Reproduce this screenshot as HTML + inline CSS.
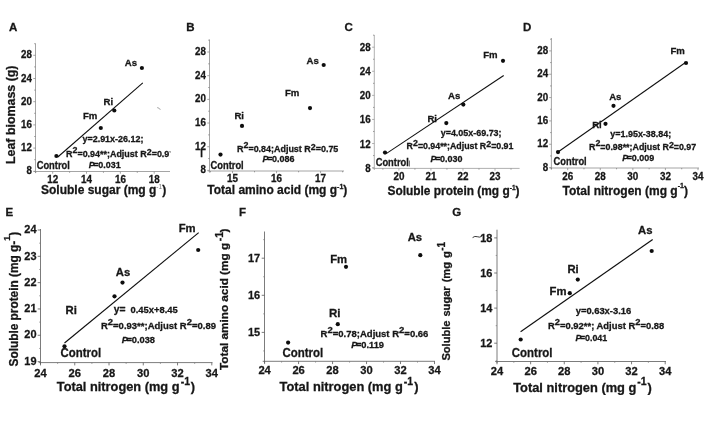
<!DOCTYPE html>
<html><head><meta charset="utf-8"><title>Figure</title>
<style>
html,body{margin:0;padding:0;background:#fff;}
svg{display:block;}
text{font-family:"Liberation Sans",Arial,Helvetica,sans-serif;font-weight:bold;fill:#151515;stroke:#151515;stroke-width:0.28px;}
</style></head><body>
<svg width="708" height="422" viewBox="0 0 708 422">
<defs><filter id="soft" x="0" y="0" width="708" height="422" filterUnits="userSpaceOnUse"><feGaussianBlur stdDeviation="0.35"/></filter></defs>
<rect width="708" height="422" fill="#ffffff"/>
<line x1="35.50" y1="43.50" x2="35.50" y2="173.10" stroke="#8e8e8e" stroke-width="0.8"/>
<line x1="33.70" y1="171.50" x2="170.00" y2="171.50" stroke="#8e8e8e" stroke-width="0.8"/>
<line x1="33.30" y1="55.30" x2="35.50" y2="55.30" stroke="#8e8e8e" stroke-width="0.8"/>
<line x1="33.30" y1="78.50" x2="35.50" y2="78.50" stroke="#8e8e8e" stroke-width="0.8"/>
<line x1="33.30" y1="101.70" x2="35.50" y2="101.70" stroke="#8e8e8e" stroke-width="0.8"/>
<line x1="33.30" y1="124.90" x2="35.50" y2="124.90" stroke="#8e8e8e" stroke-width="0.8"/>
<line x1="33.30" y1="148.10" x2="35.50" y2="148.10" stroke="#8e8e8e" stroke-width="0.8"/>
<line x1="33.30" y1="171.30" x2="35.50" y2="171.30" stroke="#8e8e8e" stroke-width="0.8"/>
<line x1="34.20" y1="43.70" x2="35.50" y2="43.70" stroke="#777" stroke-width="0.7"/>
<line x1="34.20" y1="66.90" x2="35.50" y2="66.90" stroke="#777" stroke-width="0.7"/>
<line x1="34.20" y1="90.10" x2="35.50" y2="90.10" stroke="#777" stroke-width="0.7"/>
<line x1="34.20" y1="113.30" x2="35.50" y2="113.30" stroke="#777" stroke-width="0.7"/>
<line x1="34.20" y1="136.50" x2="35.50" y2="136.50" stroke="#777" stroke-width="0.7"/>
<line x1="34.20" y1="159.70" x2="35.50" y2="159.70" stroke="#777" stroke-width="0.7"/>
<line x1="52.70" y1="171.50" x2="52.70" y2="173.70" stroke="#8e8e8e" stroke-width="0.8"/>
<line x1="86.53" y1="171.50" x2="86.53" y2="173.70" stroke="#8e8e8e" stroke-width="0.8"/>
<line x1="120.37" y1="171.50" x2="120.37" y2="173.70" stroke="#8e8e8e" stroke-width="0.8"/>
<line x1="154.20" y1="171.50" x2="154.20" y2="173.70" stroke="#8e8e8e" stroke-width="0.8"/>
<line x1="35.78" y1="171.50" x2="35.78" y2="172.80" stroke="#777" stroke-width="0.7"/>
<line x1="69.62" y1="171.50" x2="69.62" y2="172.80" stroke="#777" stroke-width="0.7"/>
<line x1="103.45" y1="171.50" x2="103.45" y2="172.80" stroke="#777" stroke-width="0.7"/>
<line x1="137.28" y1="171.50" x2="137.28" y2="172.80" stroke="#777" stroke-width="0.7"/>
<line x1="209.50" y1="39.50" x2="209.50" y2="172.60" stroke="#8e8e8e" stroke-width="0.8"/>
<line x1="207.70" y1="171.00" x2="344.00" y2="171.00" stroke="#8e8e8e" stroke-width="0.8"/>
<line x1="207.30" y1="52.00" x2="209.50" y2="52.00" stroke="#8e8e8e" stroke-width="0.8"/>
<line x1="207.30" y1="75.68" x2="209.50" y2="75.68" stroke="#8e8e8e" stroke-width="0.8"/>
<line x1="207.30" y1="99.36" x2="209.50" y2="99.36" stroke="#8e8e8e" stroke-width="0.8"/>
<line x1="207.30" y1="123.04" x2="209.50" y2="123.04" stroke="#8e8e8e" stroke-width="0.8"/>
<line x1="207.30" y1="146.72" x2="209.50" y2="146.72" stroke="#8e8e8e" stroke-width="0.8"/>
<line x1="207.30" y1="170.40" x2="209.50" y2="170.40" stroke="#8e8e8e" stroke-width="0.8"/>
<line x1="208.20" y1="40.16" x2="209.50" y2="40.16" stroke="#777" stroke-width="0.7"/>
<line x1="208.20" y1="63.84" x2="209.50" y2="63.84" stroke="#777" stroke-width="0.7"/>
<line x1="208.20" y1="87.52" x2="209.50" y2="87.52" stroke="#777" stroke-width="0.7"/>
<line x1="208.20" y1="111.20" x2="209.50" y2="111.20" stroke="#777" stroke-width="0.7"/>
<line x1="208.20" y1="134.88" x2="209.50" y2="134.88" stroke="#777" stroke-width="0.7"/>
<line x1="208.20" y1="158.56" x2="209.50" y2="158.56" stroke="#777" stroke-width="0.7"/>
<line x1="232.50" y1="171.00" x2="232.50" y2="173.20" stroke="#8e8e8e" stroke-width="0.8"/>
<line x1="276.55" y1="171.00" x2="276.55" y2="173.20" stroke="#8e8e8e" stroke-width="0.8"/>
<line x1="320.60" y1="171.00" x2="320.60" y2="173.20" stroke="#8e8e8e" stroke-width="0.8"/>
<line x1="210.47" y1="171.00" x2="210.47" y2="172.30" stroke="#777" stroke-width="0.7"/>
<line x1="254.53" y1="171.00" x2="254.53" y2="172.30" stroke="#777" stroke-width="0.7"/>
<line x1="298.58" y1="171.00" x2="298.58" y2="172.30" stroke="#777" stroke-width="0.7"/>
<line x1="342.63" y1="171.00" x2="342.63" y2="172.30" stroke="#777" stroke-width="0.7"/>
<line x1="374.30" y1="35.00" x2="374.30" y2="170.00" stroke="#9c9c9c" stroke-width="0.8"/>
<line x1="372.50" y1="168.40" x2="519.60" y2="168.40" stroke="#9c9c9c" stroke-width="0.8"/>
<line x1="372.10" y1="47.20" x2="374.30" y2="47.20" stroke="#9c9c9c" stroke-width="0.8"/>
<line x1="372.10" y1="71.28" x2="374.30" y2="71.28" stroke="#9c9c9c" stroke-width="0.8"/>
<line x1="372.10" y1="95.36" x2="374.30" y2="95.36" stroke="#9c9c9c" stroke-width="0.8"/>
<line x1="372.10" y1="119.44" x2="374.30" y2="119.44" stroke="#9c9c9c" stroke-width="0.8"/>
<line x1="372.10" y1="143.52" x2="374.30" y2="143.52" stroke="#9c9c9c" stroke-width="0.8"/>
<line x1="372.10" y1="167.60" x2="374.30" y2="167.60" stroke="#9c9c9c" stroke-width="0.8"/>
<line x1="373.00" y1="35.16" x2="374.30" y2="35.16" stroke="#777" stroke-width="0.7"/>
<line x1="373.00" y1="59.24" x2="374.30" y2="59.24" stroke="#777" stroke-width="0.7"/>
<line x1="373.00" y1="83.32" x2="374.30" y2="83.32" stroke="#777" stroke-width="0.7"/>
<line x1="373.00" y1="107.40" x2="374.30" y2="107.40" stroke="#777" stroke-width="0.7"/>
<line x1="373.00" y1="131.48" x2="374.30" y2="131.48" stroke="#777" stroke-width="0.7"/>
<line x1="373.00" y1="155.56" x2="374.30" y2="155.56" stroke="#777" stroke-width="0.7"/>
<line x1="398.90" y1="168.40" x2="398.90" y2="170.60" stroke="#9c9c9c" stroke-width="0.8"/>
<line x1="430.93" y1="168.40" x2="430.93" y2="170.60" stroke="#9c9c9c" stroke-width="0.8"/>
<line x1="462.97" y1="168.40" x2="462.97" y2="170.60" stroke="#9c9c9c" stroke-width="0.8"/>
<line x1="495.00" y1="168.40" x2="495.00" y2="170.60" stroke="#9c9c9c" stroke-width="0.8"/>
<line x1="382.88" y1="168.40" x2="382.88" y2="169.70" stroke="#777" stroke-width="0.7"/>
<line x1="414.92" y1="168.40" x2="414.92" y2="169.70" stroke="#777" stroke-width="0.7"/>
<line x1="446.95" y1="168.40" x2="446.95" y2="169.70" stroke="#777" stroke-width="0.7"/>
<line x1="478.98" y1="168.40" x2="478.98" y2="169.70" stroke="#777" stroke-width="0.7"/>
<line x1="511.02" y1="168.40" x2="511.02" y2="169.70" stroke="#777" stroke-width="0.7"/>
<line x1="409.50" y1="160.50" x2="409.50" y2="166.50" stroke="#555" stroke-width="0.8"/>
<line x1="551.40" y1="38.00" x2="551.40" y2="169.60" stroke="#8e8e8e" stroke-width="0.8"/>
<line x1="549.60" y1="168.00" x2="699.00" y2="168.00" stroke="#8e8e8e" stroke-width="0.8"/>
<line x1="549.20" y1="50.90" x2="551.40" y2="50.90" stroke="#8e8e8e" stroke-width="0.8"/>
<line x1="549.20" y1="74.24" x2="551.40" y2="74.24" stroke="#8e8e8e" stroke-width="0.8"/>
<line x1="549.20" y1="97.58" x2="551.40" y2="97.58" stroke="#8e8e8e" stroke-width="0.8"/>
<line x1="549.20" y1="120.92" x2="551.40" y2="120.92" stroke="#8e8e8e" stroke-width="0.8"/>
<line x1="549.20" y1="144.26" x2="551.40" y2="144.26" stroke="#8e8e8e" stroke-width="0.8"/>
<line x1="549.20" y1="167.60" x2="551.40" y2="167.60" stroke="#8e8e8e" stroke-width="0.8"/>
<line x1="550.10" y1="39.23" x2="551.40" y2="39.23" stroke="#777" stroke-width="0.7"/>
<line x1="550.10" y1="62.57" x2="551.40" y2="62.57" stroke="#777" stroke-width="0.7"/>
<line x1="550.10" y1="85.91" x2="551.40" y2="85.91" stroke="#777" stroke-width="0.7"/>
<line x1="550.10" y1="109.25" x2="551.40" y2="109.25" stroke="#777" stroke-width="0.7"/>
<line x1="550.10" y1="132.59" x2="551.40" y2="132.59" stroke="#777" stroke-width="0.7"/>
<line x1="550.10" y1="155.93" x2="551.40" y2="155.93" stroke="#777" stroke-width="0.7"/>
<line x1="567.70" y1="168.00" x2="567.70" y2="170.20" stroke="#8e8e8e" stroke-width="0.8"/>
<line x1="600.28" y1="168.00" x2="600.28" y2="170.20" stroke="#8e8e8e" stroke-width="0.8"/>
<line x1="632.85" y1="168.00" x2="632.85" y2="170.20" stroke="#8e8e8e" stroke-width="0.8"/>
<line x1="665.42" y1="168.00" x2="665.42" y2="170.20" stroke="#8e8e8e" stroke-width="0.8"/>
<line x1="698.00" y1="168.00" x2="698.00" y2="170.20" stroke="#8e8e8e" stroke-width="0.8"/>
<line x1="551.41" y1="168.00" x2="551.41" y2="169.30" stroke="#777" stroke-width="0.7"/>
<line x1="583.99" y1="168.00" x2="583.99" y2="169.30" stroke="#777" stroke-width="0.7"/>
<line x1="616.56" y1="168.00" x2="616.56" y2="169.30" stroke="#777" stroke-width="0.7"/>
<line x1="649.14" y1="168.00" x2="649.14" y2="169.30" stroke="#777" stroke-width="0.7"/>
<line x1="681.71" y1="168.00" x2="681.71" y2="169.30" stroke="#777" stroke-width="0.7"/>
<line x1="40.50" y1="229.00" x2="40.50" y2="364.20" stroke="#5a5a5a" stroke-width="0.8"/>
<line x1="38.70" y1="362.60" x2="212.50" y2="362.60" stroke="#5a5a5a" stroke-width="0.8"/>
<line x1="37.70" y1="230.00" x2="40.50" y2="230.00" stroke="#5a5a5a" stroke-width="0.8"/>
<line x1="37.70" y1="256.32" x2="40.50" y2="256.32" stroke="#5a5a5a" stroke-width="0.8"/>
<line x1="37.70" y1="282.64" x2="40.50" y2="282.64" stroke="#5a5a5a" stroke-width="0.8"/>
<line x1="37.70" y1="308.96" x2="40.50" y2="308.96" stroke="#5a5a5a" stroke-width="0.8"/>
<line x1="37.70" y1="335.28" x2="40.50" y2="335.28" stroke="#5a5a5a" stroke-width="0.8"/>
<line x1="37.70" y1="361.60" x2="40.50" y2="361.60" stroke="#5a5a5a" stroke-width="0.8"/>
<line x1="39.20" y1="243.16" x2="40.50" y2="243.16" stroke="#777" stroke-width="0.7"/>
<line x1="39.20" y1="269.48" x2="40.50" y2="269.48" stroke="#777" stroke-width="0.7"/>
<line x1="39.20" y1="295.80" x2="40.50" y2="295.80" stroke="#777" stroke-width="0.7"/>
<line x1="39.20" y1="322.12" x2="40.50" y2="322.12" stroke="#777" stroke-width="0.7"/>
<line x1="39.20" y1="348.44" x2="40.50" y2="348.44" stroke="#777" stroke-width="0.7"/>
<line x1="40.50" y1="362.60" x2="40.50" y2="365.40" stroke="#5a5a5a" stroke-width="0.8"/>
<line x1="74.76" y1="362.60" x2="74.76" y2="365.40" stroke="#5a5a5a" stroke-width="0.8"/>
<line x1="109.02" y1="362.60" x2="109.02" y2="365.40" stroke="#5a5a5a" stroke-width="0.8"/>
<line x1="143.28" y1="362.60" x2="143.28" y2="365.40" stroke="#5a5a5a" stroke-width="0.8"/>
<line x1="177.54" y1="362.60" x2="177.54" y2="365.40" stroke="#5a5a5a" stroke-width="0.8"/>
<line x1="211.80" y1="362.60" x2="211.80" y2="365.40" stroke="#5a5a5a" stroke-width="0.8"/>
<line x1="57.63" y1="362.60" x2="57.63" y2="363.90" stroke="#777" stroke-width="0.7"/>
<line x1="91.89" y1="362.60" x2="91.89" y2="363.90" stroke="#777" stroke-width="0.7"/>
<line x1="126.15" y1="362.60" x2="126.15" y2="363.90" stroke="#777" stroke-width="0.7"/>
<line x1="160.41" y1="362.60" x2="160.41" y2="363.90" stroke="#777" stroke-width="0.7"/>
<line x1="194.67" y1="362.60" x2="194.67" y2="363.90" stroke="#777" stroke-width="0.7"/>
<line x1="264.50" y1="231.50" x2="264.50" y2="362.90" stroke="#5a5a5a" stroke-width="0.8"/>
<line x1="262.70" y1="361.30" x2="435.00" y2="361.30" stroke="#5a5a5a" stroke-width="0.8"/>
<line x1="261.70" y1="258.20" x2="264.50" y2="258.20" stroke="#5a5a5a" stroke-width="0.8"/>
<line x1="261.70" y1="295.30" x2="264.50" y2="295.30" stroke="#5a5a5a" stroke-width="0.8"/>
<line x1="261.70" y1="332.40" x2="264.50" y2="332.40" stroke="#5a5a5a" stroke-width="0.8"/>
<line x1="263.20" y1="239.65" x2="264.50" y2="239.65" stroke="#777" stroke-width="0.7"/>
<line x1="263.20" y1="276.75" x2="264.50" y2="276.75" stroke="#777" stroke-width="0.7"/>
<line x1="263.20" y1="313.85" x2="264.50" y2="313.85" stroke="#777" stroke-width="0.7"/>
<line x1="263.20" y1="350.95" x2="264.50" y2="350.95" stroke="#777" stroke-width="0.7"/>
<line x1="264.60" y1="361.30" x2="264.60" y2="364.10" stroke="#5a5a5a" stroke-width="0.8"/>
<line x1="298.58" y1="361.30" x2="298.58" y2="364.10" stroke="#5a5a5a" stroke-width="0.8"/>
<line x1="332.56" y1="361.30" x2="332.56" y2="364.10" stroke="#5a5a5a" stroke-width="0.8"/>
<line x1="366.54" y1="361.30" x2="366.54" y2="364.10" stroke="#5a5a5a" stroke-width="0.8"/>
<line x1="400.52" y1="361.30" x2="400.52" y2="364.10" stroke="#5a5a5a" stroke-width="0.8"/>
<line x1="434.50" y1="361.30" x2="434.50" y2="364.10" stroke="#5a5a5a" stroke-width="0.8"/>
<line x1="281.59" y1="361.30" x2="281.59" y2="362.60" stroke="#777" stroke-width="0.7"/>
<line x1="315.57" y1="361.30" x2="315.57" y2="362.60" stroke="#777" stroke-width="0.7"/>
<line x1="349.55" y1="361.30" x2="349.55" y2="362.60" stroke="#777" stroke-width="0.7"/>
<line x1="383.53" y1="361.30" x2="383.53" y2="362.60" stroke="#777" stroke-width="0.7"/>
<line x1="417.51" y1="361.30" x2="417.51" y2="362.60" stroke="#777" stroke-width="0.7"/>
<line x1="497.00" y1="229.70" x2="497.00" y2="363.10" stroke="#5a5a5a" stroke-width="0.8"/>
<line x1="495.20" y1="361.50" x2="666.00" y2="361.50" stroke="#5a5a5a" stroke-width="0.8"/>
<line x1="494.20" y1="237.90" x2="497.00" y2="237.90" stroke="#5a5a5a" stroke-width="0.8"/>
<line x1="494.20" y1="273.00" x2="497.00" y2="273.00" stroke="#5a5a5a" stroke-width="0.8"/>
<line x1="494.20" y1="308.10" x2="497.00" y2="308.10" stroke="#5a5a5a" stroke-width="0.8"/>
<line x1="494.20" y1="343.20" x2="497.00" y2="343.20" stroke="#5a5a5a" stroke-width="0.8"/>
<line x1="495.70" y1="255.45" x2="497.00" y2="255.45" stroke="#777" stroke-width="0.7"/>
<line x1="495.70" y1="290.55" x2="497.00" y2="290.55" stroke="#777" stroke-width="0.7"/>
<line x1="495.70" y1="325.65" x2="497.00" y2="325.65" stroke="#777" stroke-width="0.7"/>
<line x1="495.70" y1="360.75" x2="497.00" y2="360.75" stroke="#777" stroke-width="0.7"/>
<line x1="497.00" y1="361.50" x2="497.00" y2="364.30" stroke="#5a5a5a" stroke-width="0.8"/>
<line x1="530.64" y1="361.50" x2="530.64" y2="364.30" stroke="#5a5a5a" stroke-width="0.8"/>
<line x1="564.28" y1="361.50" x2="564.28" y2="364.30" stroke="#5a5a5a" stroke-width="0.8"/>
<line x1="597.92" y1="361.50" x2="597.92" y2="364.30" stroke="#5a5a5a" stroke-width="0.8"/>
<line x1="631.56" y1="361.50" x2="631.56" y2="364.30" stroke="#5a5a5a" stroke-width="0.8"/>
<line x1="665.20" y1="361.50" x2="665.20" y2="364.30" stroke="#5a5a5a" stroke-width="0.8"/>
<line x1="513.82" y1="361.50" x2="513.82" y2="362.80" stroke="#777" stroke-width="0.7"/>
<line x1="547.46" y1="361.50" x2="547.46" y2="362.80" stroke="#777" stroke-width="0.7"/>
<line x1="581.10" y1="361.50" x2="581.10" y2="362.80" stroke="#777" stroke-width="0.7"/>
<line x1="614.74" y1="361.50" x2="614.74" y2="362.80" stroke="#777" stroke-width="0.7"/>
<line x1="648.38" y1="361.50" x2="648.38" y2="362.80" stroke="#777" stroke-width="0.7"/>
<g filter="url(#soft)">
<text x="9.00" y="31.00" font-size="11.5">A</text>
<text transform="translate(31.90 58.49) scale(0.94 1)" font-size="10.4" text-anchor="end">28</text>
<text transform="translate(31.90 81.69) scale(0.94 1)" font-size="10.4" text-anchor="end">24</text>
<text transform="translate(31.90 104.89) scale(0.94 1)" font-size="10.4" text-anchor="end">20</text>
<text transform="translate(31.90 128.09) scale(0.94 1)" font-size="10.4" text-anchor="end">16</text>
<text transform="translate(31.90 151.29) scale(0.94 1)" font-size="10.4" text-anchor="end">12</text>
<text transform="translate(31.90 174.49) scale(0.94 1)" font-size="10.4" text-anchor="end">8</text>
<text transform="translate(52.70 182.70) scale(0.95 1)" font-size="10.4" text-anchor="middle">12</text>
<text transform="translate(86.53 182.70) scale(0.95 1)" font-size="10.4" text-anchor="middle">14</text>
<text transform="translate(120.37 182.70) scale(0.95 1)" font-size="10.4" text-anchor="middle">16</text>
<text transform="translate(154.20 182.70) scale(0.95 1)" font-size="10.4" text-anchor="middle">18</text>
<text transform="translate(15.00 164.00) rotate(-90)" font-size="12.4">Leaf biomass (g)</text>
<text x="41.00" y="194.20" font-size="12">Soluble sugar (mg g<tspan dy="-5.5" font-size="6.5" style="font-weight:normal;fill:#777;stroke:none">-1</tspan><tspan dy="5.5">)</tspan></text>
<line x1="57.80" y1="157.00" x2="142.80" y2="82.80" stroke="#111" stroke-width="1.05"/>
<circle cx="56.40" cy="156.00" r="2.1" fill="#111"/>
<circle cx="100.80" cy="128.00" r="2.1" fill="#111"/>
<circle cx="114.30" cy="110.50" r="2.1" fill="#111"/>
<circle cx="141.90" cy="68.00" r="2.1" fill="#111"/>
<text x="124.80" y="66.20" font-size="9.6">As</text>
<text x="103.60" y="104.80" font-size="9.6">Ri</text>
<text x="83.00" y="119.00" font-size="9.6">Fm</text>
<text transform="translate(36.70 169.20) scale(0.88 1)" font-size="10.6">Control</text>
<text x="82.50" y="142.00" font-size="8.95">y=2.91x-26.12;</text>
<text x="66.00" y="156.90" font-size="8.95">R<tspan dy="-3.8" font-size="8.9">2</tspan><tspan dy="3.8">=0.94**;Adjust </tspan>R<tspan dy="-2.0" font-size="8.9">2</tspan><tspan dy="2.0">=0.9</tspan></text>
<text x="88.70" y="167.70" font-size="8.95"><tspan font-style="italic">P</tspan><tspan dx="-1.3">=</tspan><tspan dx="-0.3">0.031</tspan></text>
<path d="M157.2 107.6 l1.6 0.4 l0.8 1.2 l0.9 0.2" stroke="#9a9a9a" stroke-width="0.9" fill="none"/>
<path d="M169.9 151.0 l0.3 1.6" stroke="#444" stroke-width="0.9" fill="none"/>
<text x="186.20" y="31.00" font-size="11.5">B</text>
<text transform="translate(205.90 55.09) scale(0.94 1)" font-size="10.4" text-anchor="end">28</text>
<text transform="translate(205.90 78.77) scale(0.94 1)" font-size="10.4" text-anchor="end">24</text>
<text transform="translate(205.90 102.45) scale(0.94 1)" font-size="10.4" text-anchor="end">20</text>
<text transform="translate(205.90 126.13) scale(0.94 1)" font-size="10.4" text-anchor="end">16</text>
<text transform="translate(205.90 149.81) scale(0.94 1)" font-size="10.4" text-anchor="end">12</text>
<text transform="translate(205.90 173.49) scale(0.94 1)" font-size="10.4" text-anchor="end">8</text>
<text transform="translate(232.50 182.40) scale(0.95 1)" font-size="10.4" text-anchor="middle">15</text>
<text transform="translate(276.55 182.40) scale(0.95 1)" font-size="10.4" text-anchor="middle">16</text>
<text transform="translate(320.60 182.40) scale(0.95 1)" font-size="10.4" text-anchor="middle">17</text>
<text x="207.30" y="194.20" font-size="12">Total amino acid (mg g<tspan dy="-5.5" font-size="7">-1</tspan><tspan dy="5.5">)</tspan></text>
<circle cx="220.50" cy="154.60" r="2.1" fill="#111"/>
<circle cx="242.00" cy="125.90" r="2.1" fill="#111"/>
<circle cx="310.00" cy="108.10" r="2.1" fill="#111"/>
<circle cx="323.70" cy="65.00" r="2.1" fill="#111"/>
<text transform="translate(210.60 168.90) scale(0.88 1)" font-size="10.6">Control</text>
<text x="234.40" y="119.00" font-size="9.6">Ri</text>
<text x="285.00" y="96.00" font-size="9.6">Fm</text>
<text x="306.60" y="64.00" font-size="9.6">As</text>
<text x="237.00" y="151.80" font-size="8.95">R<tspan dy="-3.8" font-size="8.9">2</tspan><tspan dy="3.8">=0.84;Adjust </tspan>R<tspan dy="-2.0" font-size="8.9">2</tspan><tspan dy="2.0">=0.75</tspan></text>
<text x="262.50" y="162.00" font-size="8.95"><tspan font-style="italic">P</tspan><tspan dx="-1.3">=</tspan><tspan dx="-0.3">0.086</tspan></text>
<text x="200.20" y="157.30" font-size="9.5">l</text>
<text x="344.50" y="30.70" font-size="11.5">C</text>
<text transform="translate(370.70 51.19) scale(0.94 1)" font-size="10.4" text-anchor="end">28</text>
<text transform="translate(370.70 75.27) scale(0.94 1)" font-size="10.4" text-anchor="end">24</text>
<text transform="translate(370.70 99.35) scale(0.94 1)" font-size="10.4" text-anchor="end">20</text>
<text transform="translate(370.70 123.43) scale(0.94 1)" font-size="10.4" text-anchor="end">16</text>
<text transform="translate(370.70 147.51) scale(0.94 1)" font-size="10.4" text-anchor="end">12</text>
<text transform="translate(370.70 171.59) scale(0.94 1)" font-size="10.4" text-anchor="end">8</text>
<text transform="translate(398.90 180.40) scale(0.95 1)" font-size="10.4" text-anchor="middle">20</text>
<text transform="translate(430.93 180.40) scale(0.95 1)" font-size="10.4" text-anchor="middle">21</text>
<text transform="translate(462.97 180.40) scale(0.95 1)" font-size="10.4" text-anchor="middle">22</text>
<text transform="translate(495.00 180.40) scale(0.95 1)" font-size="10.4" text-anchor="middle">23</text>
<text x="387.50" y="195.00" font-size="11.9">Soluble protein (mg g<tspan dy="-5.5" font-size="6.5">-1</tspan><tspan dy="5.5">)</tspan></text>
<line x1="386.20" y1="153.60" x2="503.70" y2="75.50" stroke="#111" stroke-width="1.05"/>
<circle cx="385.00" cy="152.60" r="2.1" fill="#111"/>
<circle cx="446.30" cy="123.10" r="2.1" fill="#111"/>
<circle cx="463.30" cy="104.60" r="2.1" fill="#111"/>
<circle cx="503.00" cy="60.80" r="2.1" fill="#111"/>
<text transform="translate(375.70 166.20) scale(0.88 1)" font-size="10.6">Control</text>
<text x="427.40" y="122.10" font-size="9.6">Ri</text>
<text x="448.00" y="98.50" font-size="9.6">As</text>
<text x="483.20" y="58.30" font-size="9.6">Fm</text>
<text x="440.70" y="135.60" font-size="8.95">y=4.05x-69.73;</text>
<text x="406.60" y="149.20" font-size="8.82">R<tspan dy="-3.7" font-size="8.8">2</tspan><tspan dy="3.7">=0.94**;Adjust </tspan>R<tspan dy="-1.9" font-size="8.8">2</tspan><tspan dy="1.9">=0.91</tspan></text>
<text x="430.50" y="161.60" font-size="8.95"><tspan font-style="italic">P</tspan><tspan dx="-1.3">=</tspan><tspan dx="-0.3">0.030</tspan></text>
<text x="523.00" y="31.00" font-size="11.5">D</text>
<text transform="translate(548.20 53.89) scale(0.94 1)" font-size="10.4" text-anchor="end">28</text>
<text transform="translate(548.20 77.23) scale(0.94 1)" font-size="10.4" text-anchor="end">24</text>
<text transform="translate(548.20 100.57) scale(0.94 1)" font-size="10.4" text-anchor="end">20</text>
<text transform="translate(548.20 123.91) scale(0.94 1)" font-size="10.4" text-anchor="end">16</text>
<text transform="translate(548.20 147.25) scale(0.94 1)" font-size="10.4" text-anchor="end">12</text>
<text transform="translate(548.20 170.59) scale(0.94 1)" font-size="10.4" text-anchor="end">8</text>
<text transform="translate(567.70 179.90) scale(0.95 1)" font-size="10.4" text-anchor="middle">26</text>
<text transform="translate(600.28 179.90) scale(0.95 1)" font-size="10.4" text-anchor="middle">28</text>
<text transform="translate(632.85 179.90) scale(0.95 1)" font-size="10.4" text-anchor="middle">30</text>
<text transform="translate(665.42 179.90) scale(0.95 1)" font-size="10.4" text-anchor="middle">32</text>
<text transform="translate(698.00 179.90) scale(0.95 1)" font-size="10.4" text-anchor="middle">34</text>
<text x="562.60" y="194.50" font-size="12">Total nitrogen (mg g<tspan dy="-6.4" font-size="7">-1</tspan><tspan dy="6.4">)</tspan></text>
<line x1="558.00" y1="152.00" x2="685.50" y2="62.50" stroke="#111" stroke-width="1.05"/>
<circle cx="558.00" cy="152.10" r="2.1" fill="#111"/>
<circle cx="605.50" cy="123.80" r="2.1" fill="#111"/>
<circle cx="613.50" cy="105.80" r="2.1" fill="#111"/>
<circle cx="686.00" cy="63.00" r="2.1" fill="#111"/>
<text transform="translate(553.60 164.80) scale(0.88 1)" font-size="10.6">Control</text>
<text x="592.20" y="127.70" font-size="9.6">Ri</text>
<text x="609.20" y="99.50" font-size="9.6">As</text>
<text x="670.50" y="54.00" font-size="9.6">Fm</text>
<text x="610.30" y="137.00" font-size="8.95">y=1.95x-38.84;</text>
<text x="589.00" y="149.70" font-size="8.85">R<tspan dy="-3.7" font-size="8.8">2</tspan><tspan dy="3.7">=0.98**;Adjust </tspan>R<tspan dy="-1.9" font-size="8.8">2</tspan><tspan dy="1.9">=0.97</tspan></text>
<text x="622.20" y="161.00" font-size="8.95"><tspan font-style="italic">P</tspan><tspan dx="-1.3">=</tspan><tspan dx="-0.3">0.009</tspan></text>
<text x="5.50" y="216.20" font-size="11.5">E</text>
<text transform="translate(36.50 233.19) scale(0.93 1)" font-size="11.8" text-anchor="end">24</text>
<text transform="translate(36.50 259.51) scale(0.93 1)" font-size="11.8" text-anchor="end">23</text>
<text transform="translate(36.50 285.83) scale(0.93 1)" font-size="11.8" text-anchor="end">22</text>
<text transform="translate(36.50 312.15) scale(0.93 1)" font-size="11.8" text-anchor="end">21</text>
<text transform="translate(36.50 338.47) scale(0.93 1)" font-size="11.8" text-anchor="end">20</text>
<text transform="translate(36.50 364.79) scale(0.93 1)" font-size="11.8" text-anchor="end">19</text>
<text transform="translate(40.50 376.80) scale(0.98 1)" font-size="11.4" text-anchor="middle">24</text>
<text transform="translate(74.76 376.80) scale(0.98 1)" font-size="11.4" text-anchor="middle">26</text>
<text transform="translate(109.02 376.80) scale(0.98 1)" font-size="11.4" text-anchor="middle">28</text>
<text transform="translate(143.28 376.80) scale(0.98 1)" font-size="11.4" text-anchor="middle">30</text>
<text transform="translate(177.54 376.80) scale(0.98 1)" font-size="11.4" text-anchor="middle">32</text>
<text transform="translate(211.80 376.80) scale(0.98 1)" font-size="11.4" text-anchor="middle">34</text>
<text transform="translate(17.60 366.50) rotate(-90)" font-size="11.85">Soluble protein (mg g-<tspan dy="-8" font-size="9">1</tspan><tspan dy="8">)</tspan></text>
<text x="56.80" y="391.20" font-size="12.8">Total nitrogen (mg g<tspan dy="-6.3" font-size="10.5" dx="1.3">-1</tspan><tspan dy="6.3" dx="0.6">)</tspan></text>
<line x1="64.50" y1="343.00" x2="198.70" y2="232.60" stroke="#111" stroke-width="1.15"/>
<circle cx="64.50" cy="346.30" r="2.1" fill="#111"/>
<circle cx="114.50" cy="296.30" r="2.1" fill="#111"/>
<circle cx="122.50" cy="282.60" r="2.1" fill="#111"/>
<circle cx="198.20" cy="250.00" r="2.1" fill="#111"/>
<text x="65.50" y="313.80" font-size="11.3">Ri</text>
<text x="115.80" y="276.20" font-size="11.3">As</text>
<text transform="translate(60.60 357.40) scale(0.935 1)" font-size="12.2">Control</text>
<text x="178.70" y="231.60" font-size="11.3">Fm</text>
<text x="113.70" y="312.90" font-size="10.3">y=</text>
<text x="130.50" y="312.90" font-size="9.4">0.45x+8.45</text>
<text x="100.90" y="328.70" font-size="9.5">R<tspan dy="-4.0" font-size="9.5">2</tspan><tspan dy="4.0">=0.93**;Adjust </tspan>R<tspan dy="-4.0" font-size="9.5">2</tspan><tspan dy="4.0">=0.89</tspan></text>
<text x="121.70" y="342.80" font-size="9.3"><tspan font-style="italic">P</tspan><tspan dx="-1.3">=</tspan><tspan dx="-0.3">0.038</tspan></text>
<text x="239.00" y="215.80" font-size="11.5">F</text>
<text transform="translate(260.20 261.79) scale(0.93 1)" font-size="11.8" text-anchor="end">17</text>
<text transform="translate(260.20 298.89) scale(0.93 1)" font-size="11.8" text-anchor="end">16</text>
<text transform="translate(260.20 335.99) scale(0.93 1)" font-size="11.8" text-anchor="end">15</text>
<text transform="translate(264.60 374.30) scale(0.98 1)" font-size="11.4" text-anchor="middle">24</text>
<text transform="translate(298.58 374.30) scale(0.98 1)" font-size="11.4" text-anchor="middle">26</text>
<text transform="translate(332.56 374.30) scale(0.98 1)" font-size="11.4" text-anchor="middle">28</text>
<text transform="translate(366.54 374.30) scale(0.98 1)" font-size="11.4" text-anchor="middle">30</text>
<text transform="translate(400.52 374.30) scale(0.98 1)" font-size="11.4" text-anchor="middle">32</text>
<text transform="translate(434.50 374.30) scale(0.98 1)" font-size="11.4" text-anchor="middle">34</text>
<text transform="translate(228.30 370.00) rotate(-90)" font-size="11.75">Total amino acid (mg g<tspan dx="1.6" dy="-5.2" font-size="10.5">-1</tspan><tspan dy="5.2" dx="-0.5">)</tspan></text>
<text x="279.60" y="390.70" font-size="12.85">Total nitrogen (mg g<tspan dy="-6.0" font-size="10.5" dx="1.0">-1</tspan><tspan dy="6.0" dx="1.0">)</tspan></text>
<circle cx="288.10" cy="342.60" r="2.1" fill="#111"/>
<circle cx="337.80" cy="324.20" r="2.1" fill="#111"/>
<circle cx="346.00" cy="266.80" r="2.1" fill="#111"/>
<circle cx="420.30" cy="255.20" r="2.1" fill="#111"/>
<text transform="translate(282.40 356.50) scale(0.94 1)" font-size="12.2">Control</text>
<text x="329.00" y="316.60" font-size="11.5">Ri</text>
<text x="330.20" y="263.00" font-size="11.3">Fm</text>
<text x="407.70" y="240.50" font-size="11.3">As</text>
<text x="320.60" y="337.30" font-size="9.5">R<tspan dy="-4.0" font-size="9.5">2</tspan><tspan dy="4.0">=0.78;Adjust </tspan>R<tspan dy="-4.0" font-size="9.5">2</tspan><tspan dy="4.0">=0.66</tspan></text>
<text x="351.20" y="348.40" font-size="9.3"><tspan font-style="italic">P</tspan><tspan dx="-1.3">=</tspan><tspan dx="-0.3">0.119</tspan></text>
<text x="452.30" y="215.80" font-size="11.5">G</text>
<text transform="translate(492.40 241.59) scale(0.93 1)" font-size="11.8" text-anchor="end">18</text>
<text transform="translate(492.40 276.69) scale(0.93 1)" font-size="11.8" text-anchor="end">16</text>
<text transform="translate(492.40 311.79) scale(0.93 1)" font-size="11.8" text-anchor="end">14</text>
<text transform="translate(492.40 346.89) scale(0.93 1)" font-size="11.8" text-anchor="end">12</text>
<text transform="translate(497.00 374.70) scale(0.98 1)" font-size="11.4" text-anchor="middle">24</text>
<text transform="translate(530.64 374.70) scale(0.98 1)" font-size="11.4" text-anchor="middle">26</text>
<text transform="translate(564.28 374.70) scale(0.98 1)" font-size="11.4" text-anchor="middle">28</text>
<text transform="translate(597.92 374.70) scale(0.98 1)" font-size="11.4" text-anchor="middle">30</text>
<text transform="translate(631.56 374.70) scale(0.98 1)" font-size="11.4" text-anchor="middle">32</text>
<text transform="translate(665.20 374.70) scale(0.98 1)" font-size="11.4" text-anchor="middle">34</text>
<text transform="translate(450.30 360.60) rotate(-90)" font-size="11.1" word-spacing="0.9">Soluble sugar (mg g<tspan dx="0.5" dy="-5.6" font-size="10">-1</tspan></text>
<text x="513.20" y="391.60" font-size="12.85">Total nitrogen (mg g<tspan dy="-6.6" font-size="10.5" dx="0.8">-1</tspan><tspan dy="6.6" dx="0.9">)</tspan></text>
<line x1="520.60" y1="331.80" x2="652.70" y2="239.50" stroke="#111" stroke-width="1.15"/>
<circle cx="520.70" cy="339.50" r="2.1" fill="#111"/>
<circle cx="569.80" cy="293.20" r="2.1" fill="#111"/>
<circle cx="577.80" cy="279.60" r="2.1" fill="#111"/>
<circle cx="651.70" cy="251.00" r="2.1" fill="#111"/>
<text transform="translate(511.80 356.70) scale(0.94 1)" font-size="12.2">Control</text>
<text x="549.60" y="295.40" font-size="11.3">Fm</text>
<text x="567.40" y="273.20" font-size="11.3">Ri</text>
<text x="638.00" y="233.90" font-size="11.3">As</text>
<text x="575.70" y="313.50" font-size="9.4">y=0.63x-3.16</text>
<text x="548.00" y="329.30" font-size="9.42">R<tspan dy="-4.0" font-size="9.4">2</tspan><tspan dy="4.0">=0.92**; Adjust </tspan>R<tspan dy="-4.0" font-size="9.4">2</tspan><tspan dy="4.0">=0.88</tspan></text>
<text x="575.50" y="340.60" font-size="8.9"><tspan font-style="italic">P</tspan><tspan dx="-1.3">=</tspan><tspan dx="-0.3">0.041</tspan></text>
<path d="M472.6 237.6 q2.2 -1.9 4.6 -0.9 q2.4 1.0 4.4 -0.3" stroke="#222" stroke-width="0.9" fill="none"/>
</g>
</svg>
</body></html>
